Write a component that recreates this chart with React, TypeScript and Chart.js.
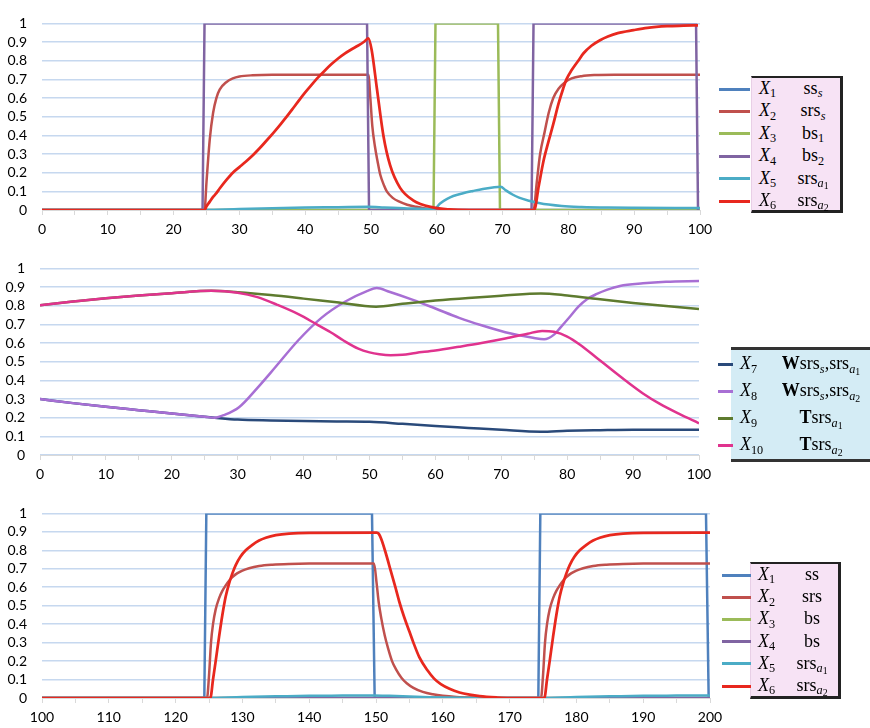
import React, { useEffect, useRef } from "react";
import { Chart, registerables } from "chart.js";
Chart.register(...registerables);

type Pt = [number, number];

// ---------- Chart 1 (t = 0..100) ----------
const C1_X_LABELS = [0, 10, 20, 30, 40, 50, 60, 70, 80, 90, 100];
const C1_X1: Pt[] = [[0, 0], [100, 0]];
const C1_X2: Pt[] = [[0, 0], [24.7, 0], [25, 0.15], [25.5, 0.38], [26, 0.52], [26.5, 0.6], [27, 0.645], [28, 0.685], [29, 0.705], [30, 0.715], [32, 0.722], [35, 0.725], [49.6, 0.725], [49.9, 0.6], [50.2, 0.45], [50.6, 0.34], [51, 0.26], [51.4, 0.19], [52, 0.13], [52.4, 0.1], [53.3, 0.065], [54.4, 0.043], [55.5, 0.028], [56.9, 0.017], [58, 0.01], [59.5, 0.004], [61, 0], [74.7, 0], [75.2, 0.15], [75.7, 0.3], [76.4, 0.42], [77, 0.52], [77.7, 0.6], [78.5, 0.65], [79.5, 0.685], [80.5, 0.705], [82, 0.717], [84, 0.723], [87, 0.725], [100, 0.725]];
const C1_X3: Pt[] = [[0, 0], [59.5, 0], [59.8, 1], [69.3, 1], [69.6, 0], [100, 0]];
const C1_X4: Pt[] = [[0, 0], [24.4, 0], [24.7, 1], [49.4, 1], [49.7, 0], [74.4, 0], [74.7, 1], [99.4, 1], [99.7, 0]];
const C1_X5: Pt[] = [[0, 0], [24.7, 0], [30, 0.006], [35, 0.01], [40, 0.013], [45, 0.015], [49.6, 0.017], [52, 0.014], [55, 0.01], [59.6, 0.005], [60.5, 0.035], [61.5, 0.058], [62.5, 0.075], [64, 0.09], [65.5, 0.102], [67, 0.113], [68.5, 0.121], [69.7, 0.125], [70.5, 0.105], [71.5, 0.083], [72.5, 0.066], [74, 0.05], [75.5, 0.038], [77, 0.029], [79, 0.021], [82, 0.016], [86, 0.013], [90, 0.012], [100, 0.011]];
const C1_X6: Pt[] = [[0, 0], [24.7, 0], [25, 0.02], [25.5, 0.045], [26, 0.07], [26.5, 0.09], [27, 0.115], [28, 0.16], [29, 0.2], [30, 0.23], [31, 0.26], [32, 0.292], [33, 0.328], [34, 0.367], [35, 0.407], [36, 0.448], [37, 0.492], [38, 0.538], [39, 0.585], [40, 0.63], [41, 0.672], [42, 0.712], [43, 0.748], [44, 0.782], [45, 0.812], [46, 0.838], [47, 0.86], [48, 0.88], [49, 0.903], [49.6, 0.92], [50.1, 0.858], [50.9, 0.65], [51.9, 0.395], [52.9, 0.24], [54.4, 0.12], [56.4, 0.052], [59.4, 0.014], [61.9, 0.003], [65, 0], [74.8, 0], [75.5, 0.13], [76.2, 0.26], [77, 0.37], [77.7, 0.46], [78.5, 0.57], [79.2, 0.65], [79.7, 0.7], [80.5, 0.75], [81.5, 0.8], [82.3, 0.84], [83.5, 0.88], [84.8, 0.91], [86, 0.93], [87.5, 0.948], [89.9, 0.964], [92, 0.976], [95, 0.985], [97.5, 0.988], [99.7, 0.99]];

// ---------- Chart 2 (t = 0..100) ----------
const C2_X_LABELS = [0, 10, 20, 30, 40, 50, 60, 70, 80, 90, 100];
const C2_X7: Pt[] = [[0, 0.3], [5, 0.278], [10, 0.258], [15, 0.24], [20, 0.222], [25, 0.205], [26.5, 0.2], [30, 0.19], [35, 0.185], [40, 0.182], [45, 0.18], [50, 0.178], [55, 0.167], [60, 0.155], [65, 0.145], [70, 0.135], [76, 0.125], [80, 0.13], [85, 0.133], [90, 0.135], [95, 0.135], [100, 0.135]];
const C2_X8: Pt[] = [[0, 0.3], [5, 0.278], [10, 0.258], [15, 0.24], [20, 0.222], [25, 0.205], [26.5, 0.2], [28, 0.215], [30.2, 0.256], [33, 0.36], [35.7, 0.47], [39.2, 0.615], [42.7, 0.735], [46.2, 0.82], [49.7, 0.88], [51.1, 0.895], [53, 0.875], [56.7, 0.83], [60, 0.785], [63.6, 0.735], [67, 0.695], [70.6, 0.658], [74.8, 0.628], [76.5, 0.62], [78, 0.645], [79, 0.684], [80.5, 0.745], [81.7, 0.795], [83, 0.835], [84.5, 0.863], [86, 0.885], [88, 0.906], [91.5, 0.92], [95, 0.928], [100, 0.932]];
const C2_X9: Pt[] = [[0, 0.803], [5, 0.822], [10, 0.84], [15, 0.855], [20, 0.867], [26, 0.88], [30, 0.872], [35, 0.857], [40, 0.838], [45, 0.818], [51, 0.795], [55, 0.81], [60, 0.828], [65, 0.842], [70, 0.853], [76, 0.866], [80, 0.855], [85, 0.835], [90, 0.815], [95, 0.798], [100, 0.783]];
const C2_X10: Pt[] = [[0, 0.803], [5, 0.822], [10, 0.84], [15, 0.855], [20, 0.867], [26, 0.88], [30, 0.87], [33, 0.846], [36, 0.805], [39.2, 0.755], [42, 0.7], [44.1, 0.658], [46, 0.615], [48.3, 0.57], [50, 0.55], [51.5, 0.54], [53.2, 0.535], [55, 0.537], [57, 0.547], [60, 0.56], [63.6, 0.58], [67, 0.6], [70.6, 0.624], [74, 0.65], [76.2, 0.665], [78, 0.66], [80, 0.635], [82, 0.59], [84.5, 0.52], [87, 0.45], [89, 0.395], [91.5, 0.33], [94, 0.275], [97, 0.22], [100, 0.17]];

// ---------- Chart 3 (t = 100..200) ----------
const C3_X_LABELS = [100, 110, 120, 130, 140, 150, 160, 170, 180, 190, 200];
const C3_X1: Pt[] = [[100, 0], [124.3, 0], [124.6, 1], [149.4, 1], [149.8, 0], [174.3, 0], [174.6, 1], [199.4, 1], [199.8, 0]];
const C3_X2: Pt[] = [[100, 0], [124.7, 0], [125, 0.12], [125.3, 0.3], [125.6, 0.4], [126, 0.48], [126.5, 0.54], [127, 0.58], [127.5, 0.61], [128, 0.635], [128.5, 0.655], [129.2, 0.675], [130, 0.69], [131, 0.703], [132.5, 0.715], [134.5, 0.722], [137, 0.726], [140, 0.728], [149.7, 0.728], [150.1, 0.62], [150.4, 0.52], [150.8, 0.43], [151.3, 0.34], [151.8, 0.27], [152.4, 0.2], [153, 0.155], [153.8, 0.11], [154.6, 0.08], [155.6, 0.055], [157, 0.033], [158.5, 0.02], [160, 0.012], [162, 0.006], [165, 0.002], [168, 0], [174.7, 0], [175, 0.12], [175.3, 0.3], [175.6, 0.4], [176, 0.48], [176.5, 0.54], [177, 0.58], [177.5, 0.61], [178, 0.635], [178.5, 0.655], [179.2, 0.675], [180, 0.69], [181, 0.703], [182.5, 0.715], [184.5, 0.722], [187, 0.726], [190, 0.728], [200, 0.728]];
const C3_X3: Pt[] = [[100, 0], [200, 0]];
const C3_X4: Pt[] = [[100, 0], [200, 0]];
const C3_X5: Pt[] = [[100, 0], [124.7, 0], [130, 0.006], [135, 0.009], [140, 0.012], [145, 0.013], [149.7, 0.014], [152, 0.012], [155, 0.008], [158, 0.004], [162, 0.001], [165, 0], [174.7, 0], [180, 0.006], [185, 0.009], [190, 0.012], [195, 0.013], [200, 0.014]];
const C3_X6: Pt[] = [[100, 0], [125.2, 0], [125.6, 0.1], [126, 0.2], [126.5, 0.33], [127, 0.45], [127.5, 0.55], [128, 0.62], [128.5, 0.675], [129, 0.72], [129.7, 0.765], [130.5, 0.8], [131.5, 0.83], [132.5, 0.853], [133.5, 0.868], [135, 0.882], [137, 0.891], [140, 0.895], [150.1, 0.896], [150.4, 0.89], [150.8, 0.86], [151.5, 0.78], [152.2, 0.69], [152.9, 0.6], [153.5, 0.52], [154.2, 0.44], [155, 0.36], [155.6, 0.3], [156.5, 0.22], [157.7, 0.15], [158.7, 0.105], [159.7, 0.075], [161, 0.05], [162.5, 0.03], [164, 0.018], [165.5, 0.01], [168, 0.003], [170, 0], [175.2, 0], [175.6, 0.1], [176, 0.2], [176.5, 0.33], [177, 0.45], [177.5, 0.55], [178, 0.62], [178.5, 0.675], [179, 0.72], [179.7, 0.765], [180.5, 0.8], [181.5, 0.83], [182.5, 0.853], [183.5, 0.868], [185, 0.882], [187, 0.891], [190, 0.895], [200, 0.896]];

const COL = {
  x1: "#4f81bd", x2: "#c0504d", x3: "#9bbb59", x4: "#8064a2", x5: "#4bacc6", x6: "#e8281e",
  x7: "#2a4a7a", x8: "#a86fd4", x9: "#5e7b2f", x10: "#e0338e",
};

type Series = { pts: Pt[]; color: string; smooth: boolean; width?: number };

type Spec = {
  left: number; top: number; w: number; h: number;
  padTop: number; padRight: number; yWidth: number; xHeight: number;
  xmin: number; xmax: number; xLabels: number[];
  series: Series[];
};

function LineChart({ spec }: { spec: Spec }) {
  const ref = useRef<HTMLCanvasElement>(null);
  useEffect(() => {
    const ds = spec.series.map((s, i) => ({
      data: s.pts.map(([x, y]) => ({ x, y })),
      borderColor: s.color,
      backgroundColor: s.color,
      borderWidth: s.width ?? 2.5,
      pointRadius: 0,
      fill: false,
      tension: s.smooth ? 0.4 : 0,
      cubicInterpolationMode: s.smooth ? ("monotone" as const) : ("default" as const),
      order: 100 - i,
    }));
    const chart = new Chart(ref.current!, {
      type: "line",
      data: { datasets: ds as any },
      options: {
        responsive: false,
        animation: false,
        events: [],
        layout: { padding: { top: spec.padTop, right: spec.padRight, left: 0, bottom: 0 } },
        plugins: { legend: { display: false }, tooltip: { enabled: false } },
        scales: {
          x: {
            type: "linear",
            min: spec.xmin,
            max: spec.xmax,
            afterFit: (s: any) => { s.height = spec.xHeight; },
            ticks: {
              stepSize: 5,
              autoSkip: false,
              maxRotation: 0,
              padding: 6,
              color: "#000",
              font: { family: "Lato", size: 14 },
              callback: (v: any) => (spec.xLabels.includes(Number(v)) ? String(v) : ""),
            },
            grid: { drawOnChartArea: false, drawTicks: true, tickLength: 5, color: "#d9d9d9", lineWidth: 1 },
            border: { display: true, color: "#d9d9d9", width: 1 },
          },
          y: {
            type: "linear",
            min: 0,
            max: 1,
            afterFit: (s: any) => { s.width = spec.yWidth; },
            ticks: {
              stepSize: 0.1,
              autoSkip: false,
              padding: 15,
              color: "#000",
              font: { family: "Lato", size: 14 },
              callback: (v: any) => String(Math.round(Number(v) * 10) / 10),
            },
            grid: { drawTicks: false, color: "#c6d8ef", lineWidth: 1.5 },
            border: { display: false },
          },
        },
      },
    });
    return () => chart.destroy();
  }, [spec]);
  return (
    <canvas
      ref={ref}
      width={spec.w}
      height={spec.h}
      style={{ position: "absolute", left: spec.left, top: spec.top, width: spec.w, height: spec.h }}
    />
  );
}

const SPEC1: Spec = {
  left: 0, top: 0, w: 720, h: 245, padTop: 15, padRight: 20, yWidth: 42, xHeight: 35,
  xmin: 0, xmax: 100, xLabels: C1_X_LABELS,
  series: [
    { pts: C1_X1, color: COL.x1, smooth: false },
    { pts: C1_X2, color: COL.x2, smooth: true },
    { pts: C1_X3, color: COL.x3, smooth: false },
    { pts: C1_X4, color: COL.x4, smooth: false },
    { pts: C1_X5, color: COL.x5, smooth: true },
    { pts: C1_X6, color: COL.x6, smooth: true, width: 2.75 },
  ],
};
const SPEC2: Spec = {
  left: 0, top: 245, w: 720, h: 245, padTop: 15, padRight: 21, yWidth: 40, xHeight: 35,
  xmin: 0, xmax: 100, xLabels: C2_X_LABELS,
  series: [
    { pts: C2_X7, color: COL.x7, smooth: true },
    { pts: C2_X8, color: COL.x8, smooth: true },
    { pts: C2_X9, color: COL.x9, smooth: true },
    { pts: C2_X10, color: COL.x10, smooth: true },
  ],
};
const SPEC3: Spec = {
  left: 0, top: 490, w: 730, h: 238, padTop: 23, padRight: 20, yWidth: 42, xHeight: 30,
  xmin: 100, xmax: 200, xLabels: C3_X_LABELS,
  series: [
    { pts: C3_X1, color: COL.x1, smooth: false },
    { pts: C3_X2, color: COL.x2, smooth: true },
    { pts: C3_X3, color: COL.x3, smooth: false },
    { pts: C3_X4, color: COL.x4, smooth: false },
    { pts: C3_X5, color: COL.x5, smooth: true },
    { pts: C3_X6, color: COL.x6, smooth: true, width: 2.75 },
  ],
};

const Sub = ({ children }: { children: React.ReactNode }) => (
  <span style={{ fontSize: "0.68em", position: "relative", top: "0.28em" }}>{children}</span>
);
const XN = ({ n }: { n: string }) => (
  <span><i>X</i><Sub>{n}</Sub></span>
);
const SubA = ({ n }: { n: string }) => (
  <Sub><i>a</i><span style={{ fontSize: "0.8em", position: "relative", top: "0.2em" }}>{n}</span></Sub>
);

type Row = { color: string; n: string; label: React.ReactNode };

function Legend({ rows, y0, dy, lineL, lineW, col1, col2c, col2w }: {
  rows: Row[]; y0: number; dy: number; lineL: number; lineW: number; col1: number; col2c: number; col2w: number;
}) {
  return (
    <>
      {rows.map((r, i) => {
        const cy = y0 + dy * i;
        return (
          <React.Fragment key={i}>
            <div style={{ position: "absolute", left: lineL, top: cy - 1.5, width: lineW, height: 3, background: r.color }} />
            <div style={{ position: "absolute", left: col1, top: cy - 12, height: 22, lineHeight: "22px", whiteSpace: "nowrap" }}>
              <XN n={r.n} />
            </div>
            <div style={{ position: "absolute", left: col2c - col2w / 2, width: col2w, top: cy - 12, height: 22, lineHeight: "22px", textAlign: "center", whiteSpace: "nowrap" }}>
              {r.label}
            </div>
          </React.Fragment>
        );
      })}
    </>
  );
}

const ROWS1: Row[] = [
  { color: COL.x1, n: "1", label: <span>ss<Sub><i>s</i></Sub></span> },
  { color: COL.x2, n: "2", label: <span>srs<Sub><i>s</i></Sub></span> },
  { color: COL.x3, n: "3", label: <span>bs<Sub>1</Sub></span> },
  { color: COL.x4, n: "4", label: <span>bs<Sub>2</Sub></span> },
  { color: COL.x5, n: "5", label: <span>srs<SubA n="1" /></span> },
  { color: COL.x6, n: "6", label: <span>srs<SubA n="2" /></span> },
];
const ROWS2: Row[] = [
  { color: COL.x7, n: "7", label: <span><b>W</b>srs<Sub><i>s</i></Sub>,srs<SubA n="1" /></span> },
  { color: COL.x8, n: "8", label: <span><b>W</b>srs<Sub><i>s</i></Sub>,srs<SubA n="2" /></span> },
  { color: COL.x9, n: "9", label: <span><b>T</b>srs<SubA n="1" /></span> },
  { color: COL.x10, n: "10", label: <span><b>T</b>srs<SubA n="2" /></span> },
];
const ROWS3: Row[] = [
  { color: COL.x1, n: "1", label: <span>ss</span> },
  { color: COL.x2, n: "2", label: <span>srs</span> },
  { color: COL.x3, n: "3", label: <span>bs</span> },
  { color: COL.x4, n: "4", label: <span>bs</span> },
  { color: COL.x5, n: "5", label: <span>srs<SubA n="1" /></span> },
  { color: COL.x6, n: "6", label: <span>srs<SubA n="2" /></span> },
];

export default function App() {
  const serif = { fontFamily: "'Liberation Serif', 'DejaVu Serif', serif", fontSize: 18, color: "#000" };
  return (
    <div style={{ position: "fixed", left: 0, top: 0, width: 870, height: 728, background: "#fff", overflow: "hidden" }}>
      <LineChart spec={SPEC1} />
      <LineChart spec={SPEC2} />
      <LineChart spec={SPEC3} />
      <div style={{ position: "absolute", left: 0, top: 0, width: 870, height: 728, ...serif }}>
        {/* legend 1 */}
        <div style={{ position: "absolute", left: 751, top: 76, width: 88, height: 132, background: "#f7e3f5", borderTop: "2px solid #222", borderRight: "3px solid #222", borderBottom: "3px solid #222", borderLeft: "1px solid #e8cfe6" }} />
        <Legend rows={ROWS1} y0={89} dy={22.4} lineL={719} lineW={31} col1={759} col2c={813} col2w={60} />
        {/* legend 2 */}
        <div style={{ position: "absolute", left: 731, top: 347, width: 145, height: 109, background: "#d4ecf5", borderTop: "3px solid #333", borderBottom: "3px solid #333" }} />
        <Legend rows={ROWS2} y0={364.3} dy={27} lineL={718} lineW={15} col1={740} col2c={821} col2w={110} />
        {/* legend 3 */}
        <div style={{ position: "absolute", left: 750, top: 562, width: 87, height: 132, background: "#f7e3f5", borderTop: "2px solid #222", borderRight: "3px solid #222", borderBottom: "3px solid #222", borderLeft: "1px solid #e8cfe6" }} />
        <Legend rows={ROWS3} y0={575} dy={22.2} lineL={722} lineW={29} col1={758} col2c={812} col2w={60} />
      </div>
    </div>
  );
}
